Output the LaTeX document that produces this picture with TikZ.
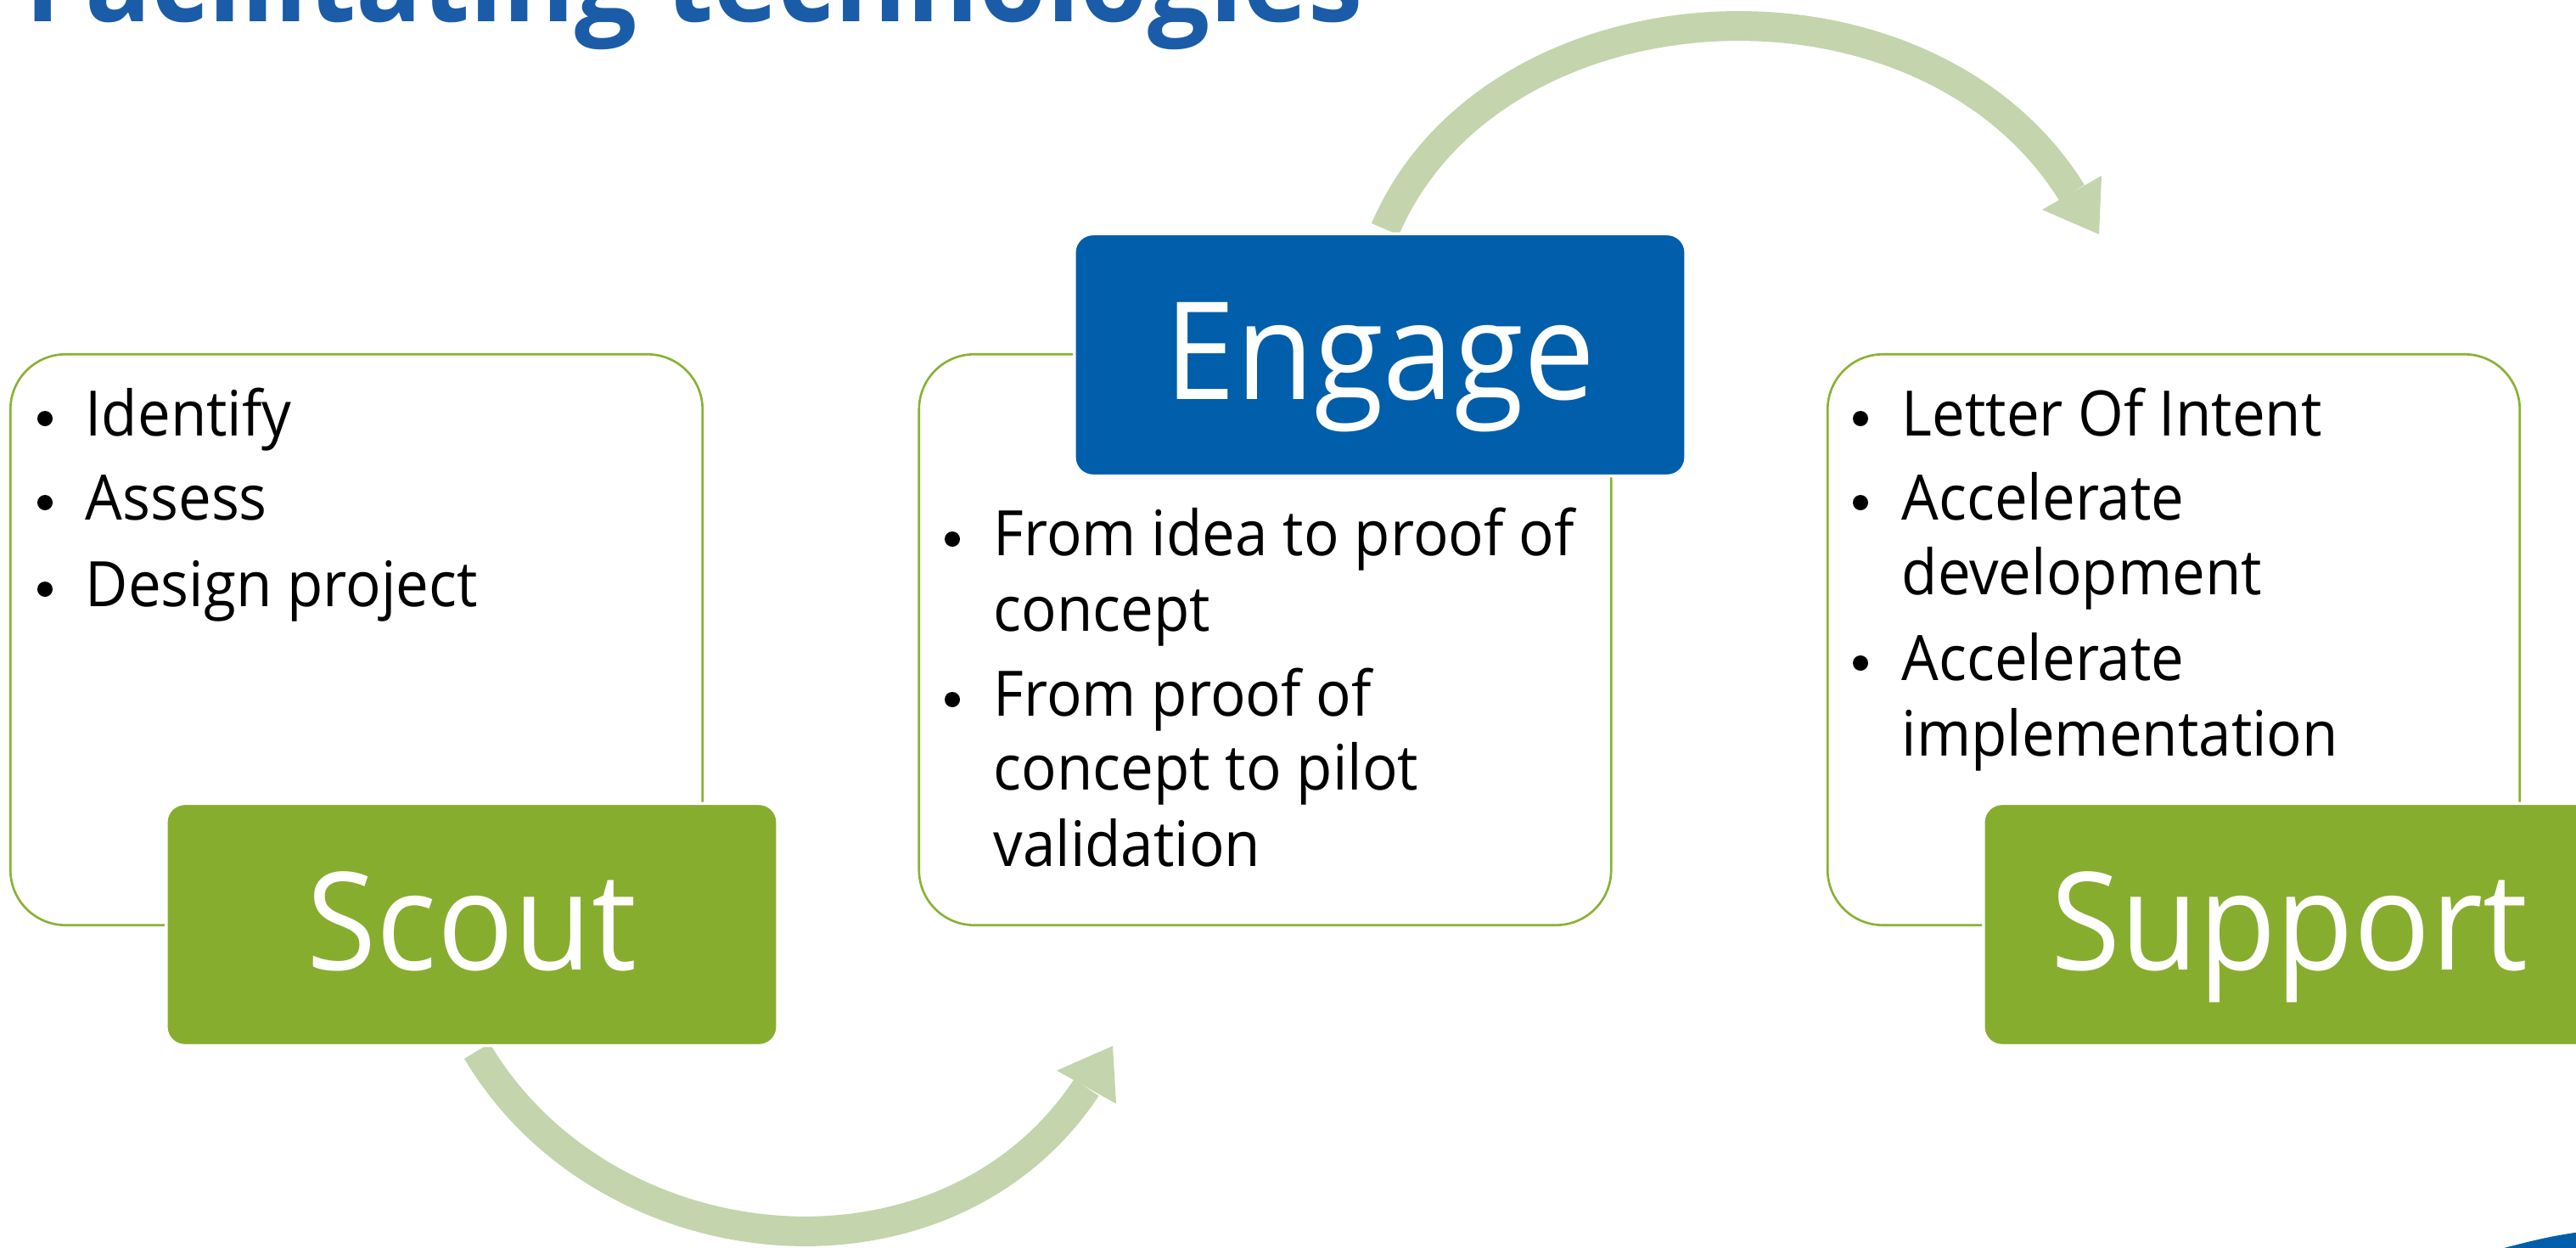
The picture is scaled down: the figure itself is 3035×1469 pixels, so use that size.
\documentclass[tikz,border=0pt]{standalone}
\usepackage{fontspec}
\setmainfont{Open Sans}[FakeStretch=0.935]
\definecolor{hdrgreen}{RGB}{135,173,47}
\definecolor{hdrblue}{RGB}{0,94,170}
\definecolor{titleblue}{RGB}{26,92,168}
\definecolor{outl}{RGB}{137,178,52}
\definecolor{arrowc}{RGB}{196,212,173}
\newcommand\myBul{\fontsize{21}{25}\selectfont}
\newcommand\myHdr{\fontsize{45.5}{50}\selectfont}
\newcommand\myTitle{\fontsize{39.3}{44}\selectfont\bfseries}
\begin{document}
\begin{tikzpicture}[x=0.01cm,y=-0.01cm,
  outbox/.style={draw=outl, line width=0.75pt, rounded corners=0.65cm, minimum width=8.15cm, minimum height=6.72cm, inner sep=0pt},
  hdrbox/.style={draw=white, line width=1pt, rounded corners=0.22cm, minimum width=7.2cm, minimum height=2.85cm, inner sep=0pt},
  hdrtext/.style={anchor=base, inner sep=0pt, text=white, font=\myHdr},
  bul/.style={anchor=base west, inner sep=0pt, font=\myBul},
  dot/.style={circle, fill=black, inner sep=0pt, minimum size=0.18cm},
  arrowline/.style={draw=arrowc, line width=0.35cm},
  arrowhead/.style={fill=arrowc}]
\useasboundingbox (0,0) rectangle (3035,1469);
\clip (0,0) rectangle (3035,1469);

% title (cut at the top edge, as in the reference)
\node[anchor=base west, inner sep=0pt, text=titleblue, font=\myTitle] (title) at (29,25) {Facilitating technologies};

% curved arrows
\coordinate (ua0) at (1632,270);
\coordinate (ua1) at (1759,-27);
\coordinate (ua2) at (2266,-55);
\coordinate (ua3) at (2441,227);
\coordinate (uh1) at (2406,247);
\coordinate (uh2) at (2473,276);
\coordinate (uh3) at (2476,207);
\draw[arrowline] (ua0) .. controls (ua1) and (ua2) .. (ua3);
\fill[arrowhead] (uh1) -- (uh2) -- (uh3) -- cycle;

\coordinate (la0) at (562,1238);
\coordinate (la1) at (715,1495);
\coordinate (la2) at (1115,1530);
\coordinate (la3) at (1280,1281);
\coordinate (lh1) at (1245,1261);
\coordinate (lh2) at (1311,1232);
\coordinate (lh3) at (1315,1300);
\draw[arrowline] (la0) .. controls (la1) and (la2) .. (la3);
\fill[arrowhead] (lh1) -- (lh2) -- (lh3) -- cycle;

% outline boxes
\node[outbox] (scoutout) at (420,753.5) {};
\node[outbox] (engageout) at (1490.5,753.5) {};
\node[outbox] (supportout) at (2561,753.5) {};

% header boxes
\node[hdrbox, fill=hdrgreen] (scoutbox) at (556,1089) {};
\node[hdrbox, fill=hdrblue] (engagebox) at (1626,418) {};
\node[hdrbox, fill=hdrgreen] (supportbox) at (2697,1089) {};
\node[hdrtext] (scouttxt) at (556,1142) {Scout};
\node[hdrtext] (engagetxt) at (1626,470) {Engage};
\node[hdrtext] (supporttxt) at (2697,1142) {Support};

% Scout bullets
\node[dot] (sd1) at (53,493) {};
\node[bul] (s1) at (100,513) {Identify};
\node[dot] (sd2) at (53,592) {};
\node[bul] (s2) at (100,612) {Assess};
\node[dot] (sd3) at (53,694) {};
\node[bul] (s3) at (100,714) {Design project};

% Engage bullets
\node[dot] (ed1) at (1122,635) {};
\node[bul] (e1) at (1170,654) {From idea to proof of};
\node[bul] (e2) at (1170,743) {concept};
\node[dot] (ed2) at (1122,824) {};
\node[bul] (e3) at (1170,843) {From proof of};
\node[bul] (e4) at (1170,930) {concept to pilot};
\node[bul] (e5) at (1170,1020) {validation};

% Support bullets
\node[dot] (pd1) at (2192,493) {};
\node[bul] (p1) at (2240,513) {Letter Of Intent};
\node[dot] (pd2) at (2192,592) {};
\node[bul] (p2) at (2240,612) {Accelerate};
\node[bul] (p3) at (2240,700) {development};
\node[dot] (pd3) at (2192,781) {};
\node[bul] (p4) at (2240,801) {Accelerate};
\node[bul] (p5) at (2240,890) {implementation};

% corner logo fragment
\fill[hdrblue] (2950,1470) .. controls (2985,1461) and (3005,1456) .. (3040,1451) -- (3040,1470) -- cycle;
\end{tikzpicture}
\end{document}
